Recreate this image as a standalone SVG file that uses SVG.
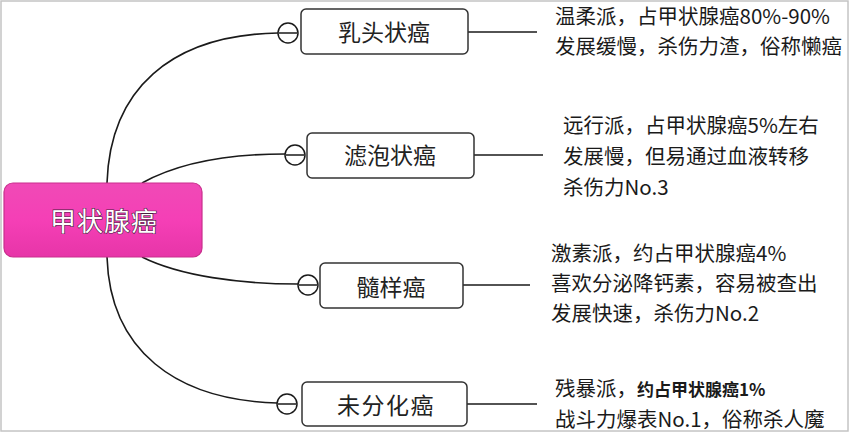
<svg xmlns="http://www.w3.org/2000/svg" width="850" height="433" viewBox="0 0 850 433">
<defs>
<linearGradient id="pk" x1="0" y1="0" x2="0" y2="1">
<stop offset="0" stop-color="#f04ab6"/>
<stop offset="0.5" stop-color="#f53fb6"/>
<stop offset="1" stop-color="#e735a8"/>
</linearGradient>
<style>
.cjk{font-family:"Noto Sans CJK SC","Noto Sans",sans-serif;}
.box{fill:#fff;stroke:#333;stroke-width:1.5;}
.lbl{font-size:23px;fill:#222;text-anchor:middle;}
.desc{font-size:20.5px;fill:#1a1a1a;}
.conn{fill:none;stroke:#1a1a1a;stroke-width:1.6;}
.tog{fill:#fff;stroke:#1a1a1a;stroke-width:1.5;}
</style>
</defs>
<rect x="0" y="0" width="850" height="433" fill="#fff"/>
<rect x="1" y="1" width="847" height="430" fill="none" stroke="#c4c4c4" stroke-width="1.5"/>
<g id="connectors">
<path class="conn" d="M107,183 C110,90 170,35 278,33"/>
<path class="conn" d="M142,183 C180,162 230,154 285,154"/>
<path class="conn" d="M142,257 C180,276 240,284 298,284"/>
<path class="conn" d="M107,257 C110,350 175,400 277,403"/>
<path class="conn" d="M468,32 H537"/>
<path class="conn" d="M474,155 H543"/>
<path class="conn" d="M463,285 H530"/>
<path class="conn" d="M467,404 H537"/>
</g>
<g id="root">
<rect x="4" y="183" width="198" height="74" rx="9" fill="url(#pk)" stroke="#c92f8d" stroke-width="1.2"/>
<text class="cjk" x="104" y="231" font-size="26" text-anchor="middle" fill="#fff" stroke="#4a2040" stroke-width="1.2" paint-order="stroke" letter-spacing="1">甲状腺癌</text>
</g>
<g id="n1">
<circle class="tog" cx="288" cy="33" r="10"/><line x1="279" y1="33" x2="297" y2="33" stroke="#1a1a1a" stroke-width="1.5"/>
<rect class="box" x="301" y="9" width="167" height="45" rx="5"/>
<text class="cjk lbl" x="384" y="41">乳头状癌</text>
</g>
<g id="n2">
<circle class="tog" cx="295" cy="155" r="10"/><line x1="286" y1="155" x2="304" y2="155" stroke="#1a1a1a" stroke-width="1.5"/>
<rect class="box" x="307" y="133" width="167" height="45" rx="5"/>
<text class="cjk lbl" x="390" y="164">滤泡状癌</text>
</g>
<g id="n3">
<circle class="tog" cx="308" cy="285" r="10"/><line x1="299" y1="285" x2="317" y2="285" stroke="#1a1a1a" stroke-width="1.5"/>
<rect class="box" x="320" y="263" width="143" height="45" rx="5"/>
<text class="cjk lbl" x="391" y="296">髓样癌</text>
</g>
<g id="n4">
<circle class="tog" cx="287" cy="404" r="10"/><line x1="278" y1="404" x2="296" y2="404" stroke="#1a1a1a" stroke-width="1.5"/>
<rect class="box" x="302" y="382" width="165" height="44" rx="5"/>
<text class="cjk lbl" x="386" y="414" letter-spacing="1.5">未分化癌</text>
</g>
<g id="d1" class="cjk desc">
<text x="555" y="24">温柔派，占甲状腺癌80%-90%</text>
<text x="555" y="54">发展缓慢，杀伤力渣，俗称懒癌</text>
</g>
<g id="d2" class="cjk desc">
<text x="563" y="133">远行派，占甲状腺癌5%左右</text>
<text x="563" y="164">发展慢，但易通过血液转移</text>
<text x="563" y="195">杀伤力No.3</text>
</g>
<g id="d3" class="cjk desc">
<text x="551" y="261">激素派，约占甲状腺癌4%</text>
<text x="551" y="291">喜欢分泌降钙素，容易被查出</text>
<text x="551" y="321">发展快速，杀伤力No.2</text>
</g>
<g id="d4" class="cjk desc">
<text x="555" y="396">残暴派，<tspan font-size="17" font-weight="bold">约占甲状腺癌1%</tspan></text>
<text x="555" y="427">战斗力爆表No.1，俗称杀人魔</text>
</g>
</svg>
